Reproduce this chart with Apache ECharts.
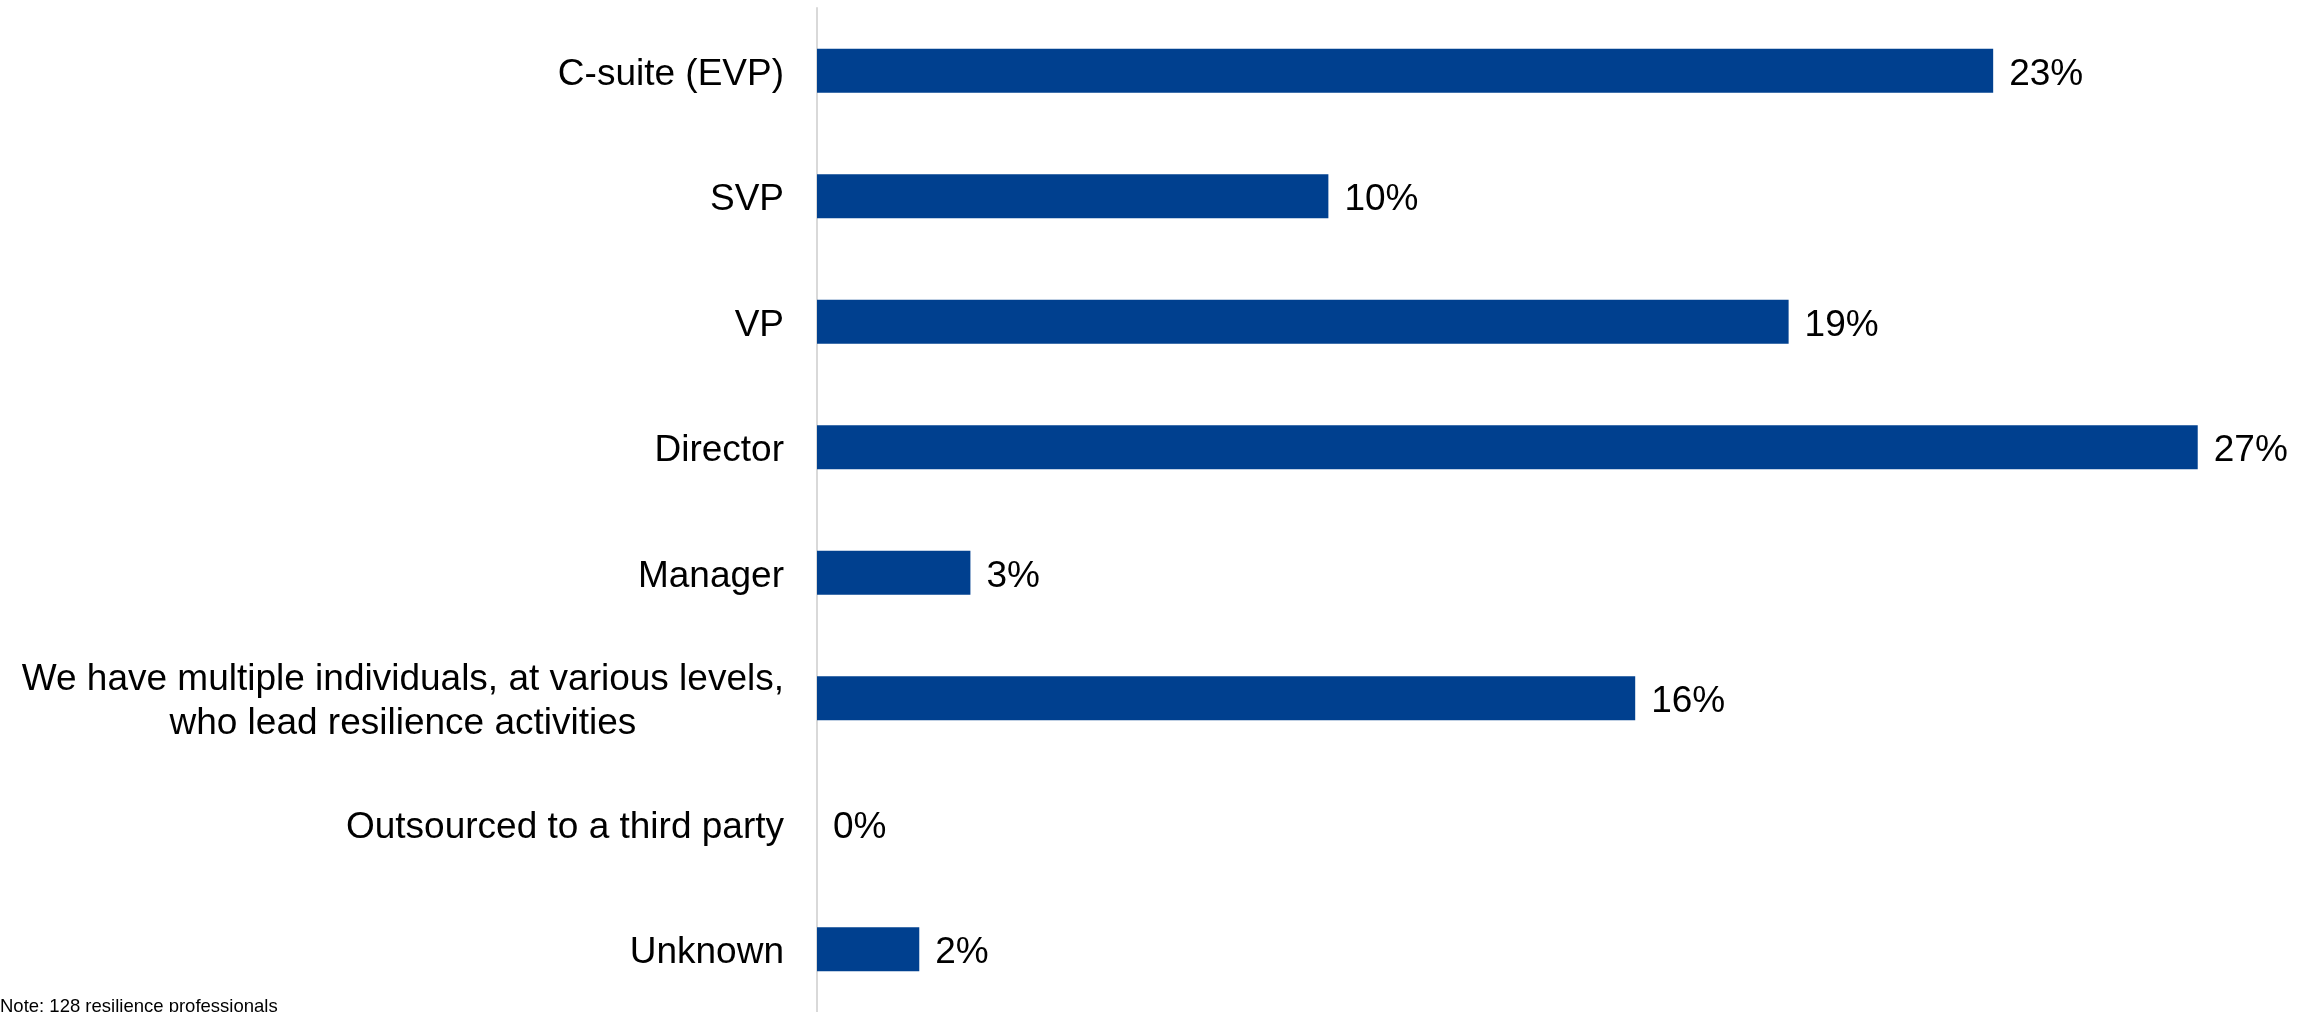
<!DOCTYPE html>
<html>
<head>
<meta charset="utf-8">
<script src="https://cdn.jsdelivr.net/npm/echarts@6/dist/echarts.min.js"></script>
<style>
  html, body { margin: 0; padding: 0; background: #ffffff; }
  #chart { width: 2305px; height: 1012px; }
</style>
</head>
<body>
<div id="chart"></div>
<script>
// Who leads resilience activities (share of respondents, %)
const categories = [
  'C-suite (EVP)',
  'SVP',
  'VP',
  'Director',
  'Manager',
  'We have multiple individuals, at various levels,\nwho lead resilience activities',
  'Outsourced to a third party',
  'Unknown'
];
const shares = [23, 10, 19, 27, 3, 16, 0, 2];
const noteText = 'Note: 128 resilience professionals';

const FONT = '"Liberation Sans", Arial, sans-serif';
const chart = echarts.init(document.getElementById('chart'), null, { renderer: 'canvas' });

chart.setOption({
  animation: false,
  backgroundColor: '#ffffff',
  grid: { left: 817, right: 5, top: 8, bottom: -4, containLabel: false },
  xAxis: {
    type: 'value',
    min: 0,
    max: 29,
    show: false
  },
  yAxis: {
    type: 'category',
    data: categories,
    inverse: true,
    axisLine: { show: true, lineStyle: { color: '#d9d9d9', width: 2 } },
    axisTick: { show: false },
    splitLine: { show: false },
    axisLabel: {
      margin: 33,
      align: 'right',
      padding: [8, 0, 0, 0],
      color: '#000000',
      fontFamily: FONT,
      fontSize: 37,
      lineHeight: 44,
      formatter: function (value) {
        if (value.indexOf('\n') < 0) return value;
        return value.split('\n').map(function (line) { return '{m|' + line + '}'; }).join('\n');
      },
      rich: {
        m: {
          align: 'center',
          color: '#000000',
          fontFamily: FONT,
          fontSize: 37,
          lineHeight: 44
        }
      }
    }
  },
  series: [{
    type: 'bar',
    data: shares,
    barWidth: 44,
    itemStyle: { color: '#00408f' },
    label: {
      show: true,
      position: 'right',
      distance: 16,
      offset: [0, 4],
      color: '#000000',
      fontFamily: FONT,
      fontSize: 37,
      formatter: '{c}%'
    }
  }],
  graphic: [{
    type: 'text',
    left: 0,
    top: 997,
    style: {
      text: noteText,
      fill: '#000000',
      font: '18.5px ' + FONT
    }
  }]
});
</script>
</body>
</html>
